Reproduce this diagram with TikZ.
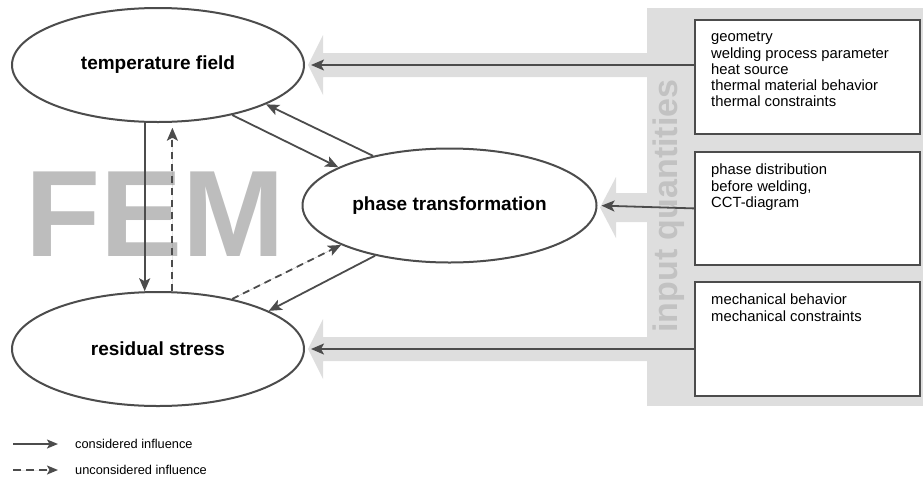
\documentclass[tikz,border=0pt]{standalone}
\usepackage{fontspec}
\setmainfont{Liberation Sans}
\usetikzlibrary{shapes.geometric, arrows.meta, positioning}

\definecolor{linegray}{HTML}{4C4C4C}
\definecolor{bandgray}{HTML}{DEDEDE}
\definecolor{femgray}{HTML}{BDBDBD}
\definecolor{qgray}{HTML}{C2C2C2}

\begin{document}
\begin{tikzpicture}[x=1pt, y=-1pt,
  field/.style={ellipse, draw=linegray, line width=2pt, fill=white, minimum width=292pt, minimum height=114pt, inner sep=0pt, font=\fontsize{19}{22}\selectfont\bfseries},
  inbox/.style={rectangle, draw=linegray, line width=1.8pt, fill=white, minimum width=225pt, minimum height=114pt, anchor=north west},
  intext/.style={anchor=north west, align=left, inner sep=0pt, font=\fontsize{14.8}{16.3}\selectfont},
  legtext/.style={anchor=west, inner sep=0pt, font=\fontsize{12.8}{14}\selectfont},
  arr/.style={-{Stealth[length=13pt, width=11pt, inset=3pt]}, line width=1.8pt, draw=linegray, fill=linegray},
  dasharr/.style={arr, dash pattern=on 7pt off 5pt},
  legarr/.style={-{Stealth[length=11pt, width=9pt, inset=2.5pt]}, line width=1.6pt, draw=linegray, fill=linegray}
]
\useasboundingbox (0,0) rectangle (923,480);

% gray input area and broad arrows
\fill[bandgray] (647,8) rectangle (923,406);
\fill[bandgray] (323,53) -- (647,53) -- (647,77) -- (323,77) -- (323,95) -- (308,65) -- (323,35) -- cycle;
\fill[bandgray] (616,193) -- (647,193) -- (647,222) -- (616,222) -- (616,238) -- (600,207.5) -- (616,177) -- cycle;
\fill[bandgray] (323,337) -- (647,337) -- (647,361) -- (323,361) -- (323,379) -- (308,349) -- (323,319) -- cycle;

\node[text=femgray, inner sep=0pt, anchor=base, font=\fontsize{123}{123}\selectfont\bfseries] (fem) at (155,256) {FEM};
\node[text=qgray, inner sep=0pt, rotate=90, font=\fontsize{34}{34}\selectfont\bfseries] (inq) at (669,206) {input quantities};

% fields
\node[field] (temp) at (158,65) {temperature field};
\node[field, minimum width=294pt] (phase) at (449.5,205.5) {phase transformation};
\node[field] (resid) at (158,349) {residual stress};

% input boxes
\node[inbox] (geo) at (694,19) {};
\node[inbox, minimum height=113pt] (cct) at (694,151) {};
\node[inbox] (mech) at (694,281) {};
\node[intext] at ([xshift=17pt, yshift=-13pt]geo.north west) {geometry\\welding process parameter\\heat source\\thermal material behavior\\thermal constraints};
\node[intext] at ([xshift=17pt, yshift=-13pt]cct.north west) {phase distribution\\before welding,\\CCT-diagram};
\node[intext] at ([xshift=17pt, yshift=-13pt]mech.north west) {mechanical behavior\\mechanical constraints};

% inputs
\draw[arr, shorten >=6pt] (geo.west |- temp.east) -- (temp.east);
\draw[arr, shorten >=4pt] (cct.west) -- (phase.east);
\draw[arr, shorten >=6pt] (mech.west |- resid.east) -- (resid.east);

% couplings
\draw[arr] (temp.-103.9) -- (resid.103.9);
\draw[dasharr, shorten >=5pt] (resid.76.1) -- (temp.-76.1);
\draw[arr] (temp.-34) -- (phase.161.3);
\draw[arr] (phase.147.4) -- (temp.-20.7);
\draw[dasharr] (resid.34) -- (phase.-160);
\draw[arr] (phase.-146) -- (resid.19.5);

% legend
\coordinate (ls1) at (13,444);
\coordinate (le1) at (58,444);
\coordinate (ls2) at (13,470);
\coordinate (le2) at (58,470);
\draw[legarr] (ls1) -- (le1);
\draw[legarr, dash pattern=on 8pt off 5pt] (ls2) -- (le2);
\node[legtext, right=17pt of le1] {considered influence};
\node[legtext, right=17pt of le2] {unconsidered influence};

\end{tikzpicture}
\end{document}
